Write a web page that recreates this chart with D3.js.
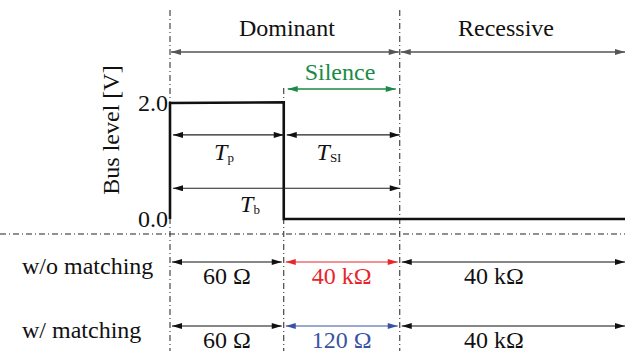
<!DOCTYPE html>
<html>
<head>
<meta charset="utf-8">
<script src="https://cdn.jsdelivr.net/npm/d3@7"></script>
</head>
<body style="margin:0">
<svg id="chart" width="625" height="351"></svg>
<script>
// phase boundaries (arbitrary time units)
const bounds = [0, 1, 2.02, 4];
const phases = ["Dominant", "Recessive"];
// bus level trace
const signal = [[0, 0], [0, 2], [1, 2.01], [1, 0], [4, 0]];
const yTicks = [0, 2];
// timing arrows: [from, to, level, label, sub]
const timing = [
  [0, 1, 1.45, "T", "p"],
  [1, 2.02, 1.45, "T", "SI"],
  [0, 2.02, 0.53, "T", "b"]
];
const rows = ["w/o matching", "w/ matching"];
const resist = [
  ["60 Ω", "40 kΩ", "40 kΩ"],
  ["60 Ω", "120 Ω", "40 kΩ"]
];
const rowColors = [
  ["#111", "#e8262a", "#111"],
  ["#111", "#3953a4", "#111"]
];

const W = 625, H = 351;
const FS = 24;
const svg = d3.select("#chart").style("font-family", '"Liberation Serif"');
const x = d3.scaleLinear().domain([0, 4]).range([170, 625]);
const y = d3.scaleLinear().domain([0, 2]).range([219, 103]);

const txt = (sel) => sel.style("font-family", '"Liberation Serif"').attr("font-size", FS);

const defs = svg.append("defs");
function marker(id, color) {
  defs.append("marker").attr("id", id + "e")
    .attr("viewBox", "0 0 10 6").attr("refX", 10).attr("refY", 3)
    .attr("markerWidth", 11).attr("markerHeight", 6).attr("markerUnits", "userSpaceOnUse")
    .attr("orient", "auto")
    .append("path").attr("d", "M0,0L10,3L0,6Z").attr("fill", color);
  defs.append("marker").attr("id", id + "s")
    .attr("viewBox", "0 0 10 6").attr("refX", 0).attr("refY", 3)
    .attr("markerWidth", 11).attr("markerHeight", 6).attr("markerUnits", "userSpaceOnUse")
    .attr("orient", "auto")
    .append("path").attr("d", "M10,0L0,3L10,6Z").attr("fill", color);
}
marker("k", "#111");
marker("g", "#555");
marker("gr", "#1b8a47");
marker("r", "#e8262a");
marker("b", "#3953a4");

function arrow(x1, x2, yy, color, id, w) {
  svg.append("line").attr("x1", x1).attr("x2", x2).attr("y1", yy).attr("y2", yy)
    .attr("stroke", color).attr("stroke-width", w || 1.3)
    .attr("marker-start", `url(#${id}s)`).attr("marker-end", `url(#${id}e)`);
}

const dashDot = "6,3,1,3";
// horizontal separator
svg.append("line").attr("x1", 0).attr("x2", W).attr("y1", 234).attr("y2", 234)
  .attr("stroke", "#222").attr("stroke-width", 1).attr("stroke-dasharray", dashDot);
// vertical boundaries
svg.append("line").attr("x1", x(bounds[0])).attr("x2", x(bounds[0])).attr("y1", 10).attr("y2", H)
  .attr("stroke", "#222").attr("stroke-width", 1).attr("stroke-dasharray", dashDot);
svg.append("line").attr("x1", x(bounds[1])).attr("x2", x(bounds[1])).attr("y1", 88).attr("y2", H)
  .attr("stroke", "#222").attr("stroke-width", 1).attr("stroke-dasharray", dashDot);
svg.append("line").attr("x1", x(bounds[2])).attr("x2", x(bounds[2])).attr("y1", 10).attr("y2", H)
  .attr("stroke", "#222").attr("stroke-width", 1).attr("stroke-dasharray", dashDot);

// phase arrows
arrow(x(bounds[0]) + 1, x(bounds[2]) - 1, 52, "#555", "g");
arrow(x(bounds[2]) + 1, x(bounds[3]), 52, "#555", "g");
svg.append("text").attr("x", (x(bounds[0]) + x(bounds[2])) / 2 + 2).attr("y", 36)
  .attr("text-anchor", "middle").attr("fill", "#111").call(txt).text(phases[0]);
svg.append("text").attr("x", 506).attr("y", 36)
  .attr("text-anchor", "middle").attr("fill", "#111").call(txt).text(phases[1]);

// silence
arrow(x(bounds[1]) + 4, x(bounds[2]) - 4, 89, "#1b8a47", "gr");
svg.append("text").attr("x", 340).attr("y", 80)
  .attr("text-anchor", "middle").attr("fill", "#1b8a47").call(txt).text("Silence");

// signal trace
svg.append("path").datum(signal)
  .attr("d", d3.line().x(d => x(d[0])).y(d => y(d[1])))
  .attr("fill", "none").attr("stroke", "#111").attr("stroke-width", 2.6);

// y ticks
svg.selectAll(".yt").data(yTicks).join("text")
  .attr("x", 168).attr("y", d => y(d) + 8)
  .attr("text-anchor", "end").attr("fill", "#111").call(txt)
  .text(d => d3.format(".1f")(d));
svg.append("text").attr("transform", `translate(119,130) rotate(-90)`)
  .attr("text-anchor", "middle").attr("fill", "#111").call(txt).text("Bus level [V]");

// timing arrows
const labelX = [224, 329, 250];
const labelDy = [25, 25, 24];
timing.forEach(([a, b, lv, t, s], i) => {
  arrow(x(a) + 3, x(b), y(lv), "#222", "k", 1.2);
  const tt = svg.append("text").attr("x", labelX[i]).attr("y", y(lv) + labelDy[i])
    .attr("text-anchor", "middle").attr("fill", "#111").call(txt);
  tt.append("tspan").attr("font-style", "italic").text(t);
  tt.append("tspan").attr("font-size", 13).attr("dy", 2).text(s);
});

// resistance rows
const rowY = d3.scalePoint().domain(rows).range([262, 326]);
rows.forEach((r, i) => {
  const ry = rowY(r);
  svg.append("text").attr("x", 22).attr("y", ry + 12).attr("fill", "#111").call(txt).text(r);
  const ids = i === 0 ? ["k", "r", "k"] : ["k", "b", "k"];
  for (let k = 0; k < 3; k++) {
    const x1 = x(bounds[k]) + 2, x2 = x(bounds[k + 1]) - (k === 2 ? 0 : 2);
    arrow(x1, x2, ry, rowColors[i][k], ids[k], 1.2);
    const cx = k === 2 ? 494 : (x1 + x2) / 2;
    svg.append("text").attr("x", cx).attr("y", ry + 22)
      .attr("text-anchor", "middle").attr("fill", rowColors[i][k]).call(txt)
      .text(resist[i][k]);
  }
});
</script>
</body>
</html>
